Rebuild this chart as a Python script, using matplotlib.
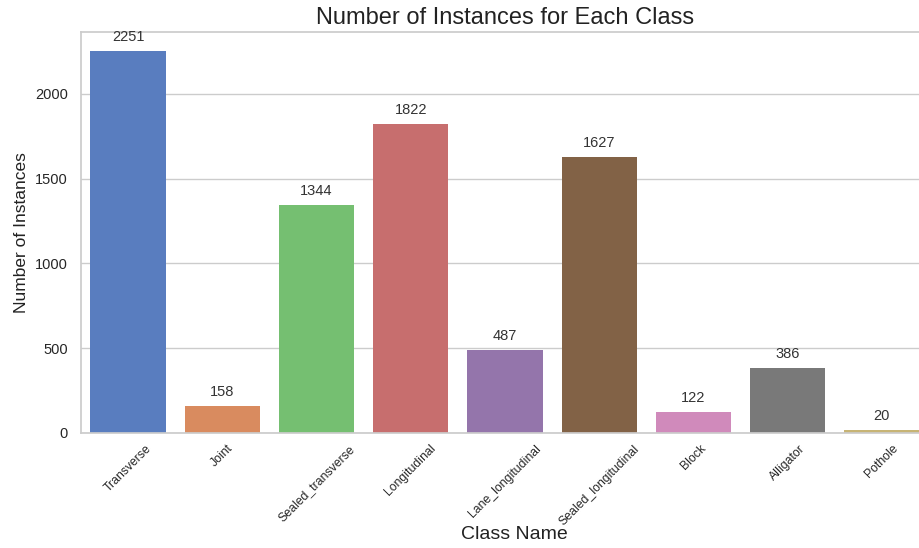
import matplotlib
matplotlib.use("Agg")
import matplotlib.pyplot as plt
import seaborn as sns

class_names = ["Transverse", "Joint", "Sealed_transverse", "Longitudinal",
               "Lane_longitudinal", "Sealed_longitudinal", "Block", "Alligator", "Pothole"]
counts = [2251, 158, 1344, 1822, 487, 1627, 122, 386, 20]

sns.set_theme(style="whitegrid")
plt.rcParams['font.family'] = ['Liberation Sans', 'DejaVu Sans']

fig = plt.figure(figsize=(9.19, 5.48), dpi=100)
ax = fig.add_axes([81 / 919, (548 - 433) / 548, 848 / 919, 401 / 548])

colors = sns.color_palette("muted", len(class_names))
sns.barplot(x=class_names, y=counts, hue=class_names, palette=colors, legend=False,
            linewidth=0, ax=ax)

for i, v in enumerate(counts):
    ax.annotate(str(v), (i, v), xytext=(0, 5), textcoords="offset points",
                ha="center", va="bottom", fontsize=10.5, color="#333333")

ax.set_ylim(0, 2364)
ax.set_title("Number of Instances for Each Class", fontsize=17, color="#222222")
ax.set_xlabel("Class Name", fontsize=14, color="#222222")
ax.set_ylabel("Number of Instances", fontsize=12.5, color="#222222")
ax.xaxis.set_label_coords((514 - 81) / 848, -(526 - 433) / 401)
plt.setp(ax.get_xticklabels(), rotation=45, ha="center")
ax.tick_params(axis="x", labelsize=8.8, pad=1)
ax.tick_params(axis="y", labelsize=10.5)

fig.savefig("out.png", dpi=100)
